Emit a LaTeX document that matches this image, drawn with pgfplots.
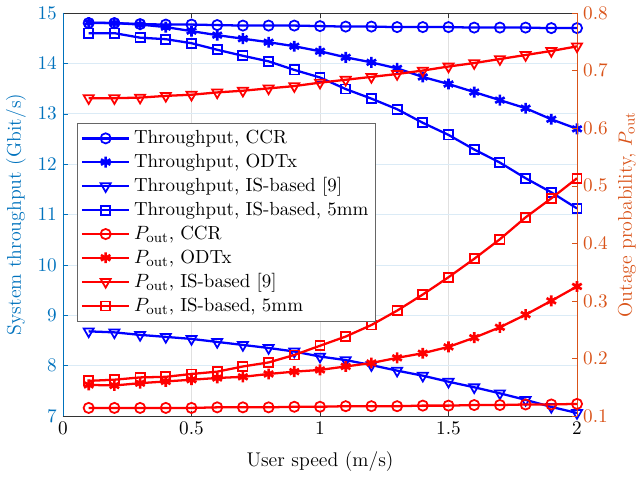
\documentclass[border=0pt]{standalone}
\usepackage{pgfplots}
\usepackage{pgfplotstable}
\pgfplotsset{compat=1.18}
\definecolor{mblue}{RGB}{0,114,189}
\definecolor{morange}{RGB}{217,83,25}
\pgfplotstableread{
x    ccr    odtx   is    mm
0.1 14.80 14.81 8.68 14.60
0.2 14.80 14.80 8.66 14.60
0.3 14.78 14.77 8.61 14.51
0.4 14.77 14.72 8.57 14.48
0.5 14.77 14.64 8.53 14.40
0.6 14.76 14.56 8.47 14.27
0.7 14.75 14.49 8.41 14.15
0.8 14.75 14.42 8.35 14.04
0.9 14.75 14.34 8.28 13.87
1.0 14.74 14.24 8.18 13.72
1.1 14.73 14.12 8.11 13.49
1.2 14.73 14.02 8.01 13.30
1.3 14.72 13.90 7.90 13.09
1.4 14.72 13.73 7.80 12.82
1.5 14.72 13.59 7.68 12.58
1.6 14.71 13.43 7.57 12.29
1.7 14.71 13.27 7.45 12.03
1.8 14.71 13.11 7.32 11.72
1.9 14.70 12.89 7.18 11.44
2.0 14.70 12.70 7.06 11.12
}\thr
\pgfplotstableread{
x ccr odtx is mm
0.1 0.114 0.154 0.652 0.161
0.2 0.114 0.153 0.652 0.163
0.3 0.114 0.157 0.653 0.167
0.4 0.114 0.160 0.656 0.168
0.5 0.114 0.163 0.658 0.173
0.6 0.115 0.166 0.662 0.177
0.7 0.115 0.168 0.665 0.186
0.8 0.115 0.173 0.669 0.193
0.9 0.116 0.177 0.673 0.206
1.0 0.116 0.180 0.679 0.222
1.1 0.117 0.186 0.684 0.238
1.2 0.117 0.192 0.689 0.258
1.3 0.117 0.201 0.694 0.283
1.4 0.118 0.209 0.700 0.311
1.5 0.118 0.220 0.707 0.341
1.6 0.119 0.236 0.713 0.373
1.7 0.119 0.254 0.720 0.407
1.8 0.120 0.276 0.727 0.445
1.9 0.120 0.300 0.734 0.478
2.0 0.121 0.325 0.742 0.513
}\pout
\begin{document}
\begin{tikzpicture}
\pgfplotsset{
  base/.style={
    width=292.98pt, height=229.71pt, scale only axis,
    xmin=0, xmax=2, tick align=inside, major tick length=3pt,
    xtick={0,0.5,1,1.5,2},
    every tick label/.append style={font=\fontsize{11}{13}\selectfont},
    label style={font=\fontsize{11.3}{13}\selectfont},
  },
  ln/.style={line width=1.3pt},
  mk/.style={mark options={solid, line width=1pt}},
  mka/.style={mark=asterisk, mark size=3.1pt, mark options={solid, line width=1.5pt}},
  mkt/.style={mark=triangle, mark size=3.3pt, mark options={solid, line width=1pt, rotate=180}},
  legend image code/.code={\draw[mark repeat=2,mark phase=2] plot coordinates {(0pt,0pt)(13.5pt,0pt)(27pt,0pt)};},
}
\begin{axis}[base, name=ax,
  ymin=7, ymax=15, ytick={7,8,...,15},
  axis y line*=left,
  y axis line style={mblue},
  x axis line style={black!80},
  ytick style={mblue}, xtick style={black!80},
  yticklabel style={mblue},
  xticklabel style={black},
  xlabel={User speed (m/s)},
  ylabel={System throughput (Gbit/s)},
  ylabel style={mblue, at={(axis description cs:-0.0914,0.5)}, anchor=center},
  xlabel style={at={(axis description cs:0.5,-0.114)}, anchor=center},
  grid=major,
  x grid style={black!12},
  y grid style={mblue!14},
]
\addplot[blue, ln, mark=o, mark size=2.9pt, mk] table[x=x,y=ccr]{\thr};
\addplot[blue, ln, mka] table[x=x,y=odtx]{\thr};
\addplot[blue, ln, mkt] table[x=x,y=is]{\thr};
\addplot[blue, ln, mark=square, mark size=2.6pt, mk] table[x=x,y=mm]{\thr};
\end{axis}
\begin{axis}[base,
  ymin=0.1, ymax=0.8, ytick={0.1,0.2,0.3,0.4,0.5,0.6,0.7,0.8},
  axis y line*=right, axis x line=none,
  y axis line style={morange},
  ytick style={morange},
  yticklabel style={morange, /pgf/number format/fixed, /pgf/number format/fixed zerofill, /pgf/number format/precision=1},
  ylabel={Outage probability, $P_{\mathrm{out}}$},
  ylabel style={morange, at={(axis description cs:1.097,0.5)}, anchor=center},
  legend cell align=left,
  legend style={at={(0.0272,0.727)}, anchor=north west, draw=black!60, fill=white,
    font=\fontsize{10.8}{12}\selectfont, row sep=0.4pt, inner sep=2pt},
]
\addlegendimage{blue, ln, mark=o, mark size=2.9pt, mk}
\addlegendentry{Throughput, CCR}
\addlegendimage{blue, ln, mka}
\addlegendentry{Throughput, ODTx}
\addlegendimage{blue, ln, mkt}
\addlegendentry{Throughput, IS-based [9]}
\addlegendimage{blue, ln, mark=square, mark size=2.6pt, mk}
\addlegendentry{Throughput, IS-based, 5mm}
\addplot[red, ln, mark=o, mark size=2.9pt, mk] table[x=x,y=ccr]{\pout};
\addlegendentry{$P_{\mathrm{out}}$, CCR}
\addplot[red, ln, mka] table[x=x,y=odtx]{\pout};
\addlegendentry{$P_{\mathrm{out}}$, ODTx}
\addplot[red, ln, mkt] table[x=x,y=is]{\pout};
\addlegendentry{$P_{\mathrm{out}}$, IS-based [9]}
\addplot[red, ln, mark=square, mark size=2.6pt, mk] table[x=x,y=mm]{\pout};
\addlegendentry{$P_{\mathrm{out}}$, IS-based, 5mm}
\end{axis}
\pgfresetboundingbox
\path[use as bounding box] ([shift={(-35.91pt,-35.34pt)}]ax.south west) rectangle ([shift={(36.48pt,7.41pt)}]ax.north east);
\end{tikzpicture}
\end{document}
